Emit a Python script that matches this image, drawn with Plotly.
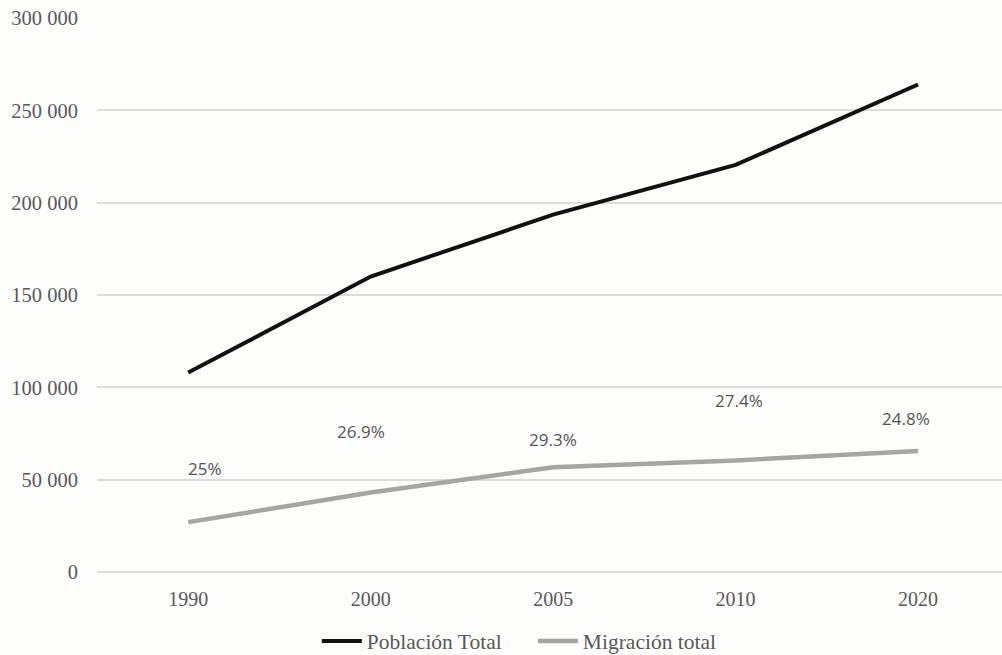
import plotly.graph_objects as go

# Años del eje horizontal
years = ["1990", "2000", "2005", "2010", "2020"]

# Población total y población migrante (personas)
poblacion_total = [108000, 160000, 193500, 220500, 264000]
migracion_total = [27000, 43000, 56700, 60400, 65500]

# Porcentaje de migración sobre la población total
pct_labels = ["25%", "26.9%", "29.3%", "27.4%", "24.8%"]

# Desplazamiento en píxeles de cada etiqueta respecto a su punto
label_dx = [17, -10, 0, 3, -12]
label_dy = [54, 61, 28, 60, 33]

y_ticks = [0, 50000, 100000, 150000, 200000, 250000, 300000]
y_ticktext = ["0", "50 000", "100 000", "150 000", "200 000", "250 000", "300 000"]

serif = "Liberation Serif, Times New Roman, serif"
bg = "#fdfdfb"
grid = "#dcdcdc"

fig = go.Figure()
fig.add_trace(go.Scatter(
    x=years, y=poblacion_total, mode="lines", name="Población Total",
    line=dict(color="#111111", width=4),
))
fig.add_trace(go.Scatter(
    x=years, y=migracion_total, mode="lines", name="Migración total",
    line=dict(color="#a5a5a3", width=4.5),
))

# Etiquetas de porcentaje sobre la serie de migración (x por índice de categoría)
for i, (val, txt, dx, dy) in enumerate(zip(migracion_total, pct_labels, label_dx, label_dy)):
    fig.add_annotation(
        x=i, y=val, xref="x", yref="y", text=txt, showarrow=False,
        xshift=dx, yshift=dy,
        font=dict(family="Open Sans, sans-serif", size=17, color="#555555"),
    )

fig.update_layout(
    width=1002, height=655,
    margin=dict(l=97, r=0, t=18, b=83, autoexpand=False),
    paper_bgcolor=bg, plot_bgcolor=bg,
    font=dict(family=serif, size=20, color="#595959"),
    showlegend=True,
    legend=dict(
        orientation="h", x=0.5318, xref="container", xanchor="center",
        y=0.0214, yref="container", yanchor="middle",
        font=dict(family=serif, size=21.5, color="#595959"),
        itemwidth=40, entrywidth=161, tracegroupgap=0, bgcolor="rgba(0,0,0,0)",
    ),
    xaxis=dict(
        type="category", range=[-0.5, 4.46], automargin=False,
        showgrid=False, zeroline=False, showline=False,
        ticks="outside", ticklen=9, tickcolor="rgba(0,0,0,0)",
        tickfont=dict(family=serif, size=20, color="#595959"),
    ),
    yaxis=dict(
        range=[0, 300000], tickvals=y_ticks, ticktext=y_ticktext, automargin=False,
        showgrid=True, gridcolor=grid, gridwidth=1.5,
        zeroline=True, zerolinecolor=grid, zerolinewidth=1.5, showline=False,
        ticks="outside", ticklen=14, tickcolor="rgba(0,0,0,0)",
        tickfont=dict(family=serif, size=20.5, color="#595959"),
    ),
)

fig.write_html("out.html")
